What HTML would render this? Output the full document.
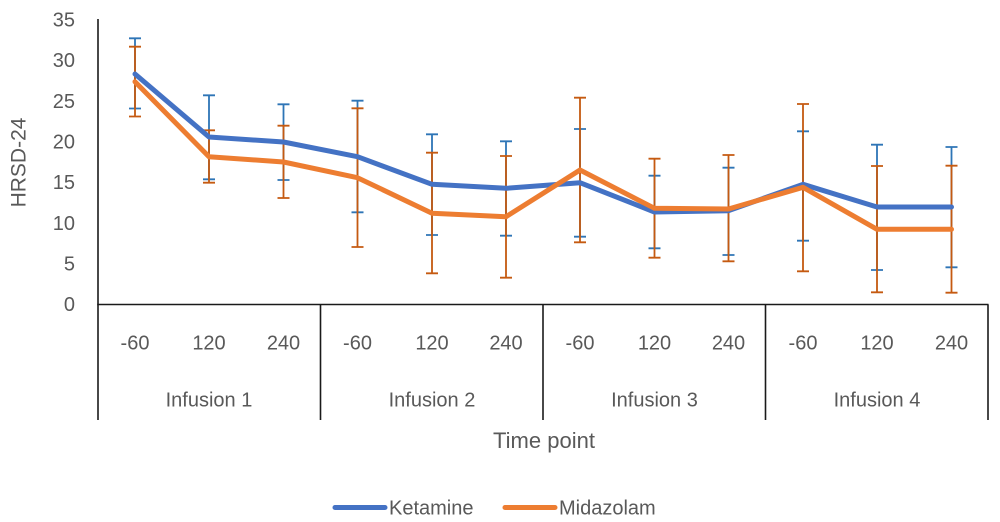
<!DOCTYPE html>
<html>
<head>
<meta charset="utf-8">
<style>
html,body{margin:0;padding:0;background:#fff;}
svg{display:block;}
text{font-family:"Liberation Sans",Arial,sans-serif;fill:#595959;}
</style>
</head>
<body>
<svg width="1000" height="522" viewBox="0 0 1000 522" xmlns="http://www.w3.org/2000/svg">
<rect width="1000" height="522" fill="#fff"/>
<!-- y tick labels -->
<g font-size="20" text-anchor="end">
<text x="75" y="311">0</text>
<text x="75" y="270.5">5</text>
<text x="75" y="230">10</text>
<text x="75" y="189">15</text>
<text x="75" y="148.5">20</text>
<text x="75" y="108">25</text>
<text x="75" y="67">30</text>
<text x="75" y="26.5">35</text>
</g>
<text transform="translate(25.5,162.5) rotate(-90)" font-size="21" text-anchor="middle">HRSD-24</text>

<!-- axes -->
<g stroke="#1a1a1a" stroke-width="1.6" fill="none">
<line x1="98" y1="19" x2="98" y2="420"/>
<line x1="97.2" y1="304.5" x2="988.5" y2="304.5"/>
<line x1="320.5" y1="304.5" x2="320.5" y2="420"/>
<line x1="543" y1="304.5" x2="543" y2="420"/>
<line x1="765.5" y1="304.5" x2="765.5" y2="420"/>
<line x1="988" y1="304.5" x2="988" y2="420"/>
</g>

<!-- x tick labels -->
<g font-size="20" text-anchor="middle">
<text x="135" y="349.5">-60</text><text x="209" y="349.5">120</text><text x="283.5" y="349.5">240</text>
<text x="357.5" y="349.5">-60</text><text x="432" y="349.5">120</text><text x="506" y="349.5">240</text>
<text x="580" y="349.5">-60</text><text x="654.5" y="349.5">120</text><text x="728.5" y="349.5">240</text>
<text x="803" y="349.5">-60</text><text x="877" y="349.5">120</text><text x="951.5" y="349.5">240</text>
<text x="209" y="406.5">Infusion 1</text>
<text x="432" y="406.5">Infusion 2</text>
<text x="654.5" y="406.5">Infusion 3</text>
<text x="877" y="406.5">Infusion 4</text>
</g>
<text x="544" y="448" font-size="22" text-anchor="middle">Time point</text>

<!-- blue error bars -->
<g stroke="#2E75B6" stroke-width="1.8" fill="none">
<path d="M135 38.3V108.5M129 38.3h12M129 108.5h12"/>
<path d="M209 95.3V179.3M203 95.3h12M203 179.3h12"/>
<path d="M283.5 104.3V180M277.5 104.3h12M277.5 180h12"/>
<path d="M357.5 100.7V212.3M351.5 100.7h12M351.5 212.3h12"/>
<path d="M432 134.3V235M426 134.3h12M426 235h12"/>
<path d="M506 141.3V235.7M500 141.3h12M500 235.7h12"/>
<path d="M580 129V236.7M574 129h12M574 236.7h12"/>
<path d="M654.5 175.7V248.3M648.5 175.7h12M648.5 248.3h12"/>
<path d="M728.5 167.7V255M722.5 167.7h12M722.5 255h12"/>
<path d="M803 131.3V240.7M797 131.3h12M797 240.7h12"/>
<path d="M877 144.7V270M871 144.7h12M871 270h12"/>
<path d="M951.5 147V267.3M945.5 147h12M945.5 267.3h12"/>
</g>
<!-- orange error bars -->
<g stroke="#C55A11" stroke-width="1.8" fill="none">
<path d="M135 46.7V116.5M129 46.7h12M129 116.5h12"/>
<path d="M209 130.3V182.7M203 130.3h12M203 182.7h12"/>
<path d="M283.5 125.7V198M277.5 125.7h12M277.5 198h12"/>
<path d="M357.5 108.3V247M351.5 108.3h12M351.5 247h12"/>
<path d="M432 152.7V273.3M426 152.7h12M426 273.3h12"/>
<path d="M506 156V277.7M500 156h12M500 277.7h12"/>
<path d="M580 97.7V242.3M574 97.7h12M574 242.3h12"/>
<path d="M654.5 158.7V257.7M648.5 158.7h12M648.5 257.7h12"/>
<path d="M728.5 155V261.3M722.5 155h12M722.5 261.3h12"/>
<path d="M803 104V271.3M797 104h12M797 271.3h12"/>
<path d="M877 166V292.3M871 166h12M871 292.3h12"/>
<path d="M951.5 165.7V292.7M945.5 165.7h12M945.5 292.7h12"/>
</g>

<!-- lines -->
<polyline fill="none" stroke="#4472C4" stroke-width="5" stroke-linejoin="round" stroke-linecap="round"
 points="135,74 209,137 283.5,142 357.5,156.7 432,184.3 506,188.3 580,182.7 654.5,212 728.5,210.7 803,184.3 877,207 951.5,207"/>
<polyline fill="none" stroke="#ED7D31" stroke-width="5" stroke-linejoin="round" stroke-linecap="round"
 points="135,81.7 209,156.7 283.5,162 357.5,177.7 432,213.3 506,216.7 580,170 654.5,208.3 728.5,209 803,187.3 877,229.3 951.5,229.3"/>

<!-- legend -->
<line x1="335" y1="507.5" x2="385" y2="507.5" stroke="#4472C4" stroke-width="5" stroke-linecap="round"/>
<text x="389" y="514.5" font-size="20">Ketamine</text>
<line x1="505" y1="507.5" x2="555" y2="507.5" stroke="#ED7D31" stroke-width="5" stroke-linecap="round"/>
<text x="559" y="514.5" font-size="20">Midazolam</text>
</svg>
</body>
</html>
